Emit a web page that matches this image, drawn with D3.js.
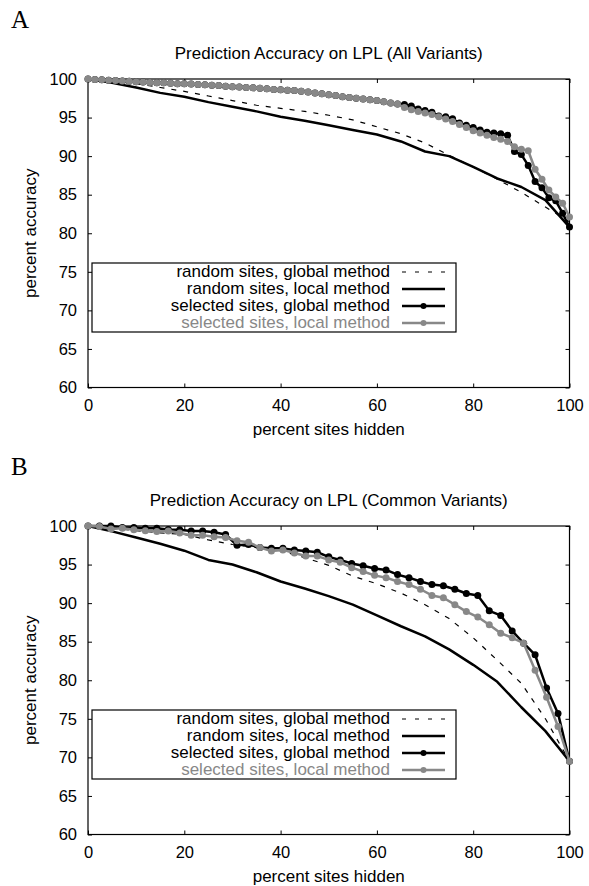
<!DOCTYPE html>
<html>
<head>
<meta charset="utf-8">
<script src="https://cdn.jsdelivr.net/npm/d3@7"></script>
<style>
  body { margin: 0; background: #fff; }
  svg { display: block; }
  text { font-family: "Liberation Sans", Arial, Helvetica, sans-serif; }
</style>
</head>
<body>
<div id="chart"></div>
<script>
var width = 589,
    height = 886;

var xTicks = [0, 20, 40, 60, 80, 100];
var yTicks = [60, 65, 70, 75, 80, 85, 90, 95, 100];
var legendLabels = ['random sites, global method', 'random sites, local method',
                    'selected sites, global method', 'selected sites, local method'];

// random sites are sampled every 5 percent
var randX = [0, 5, 10, 15, 20, 25, 30, 35, 40, 45, 50, 55, 60, 65, 70, 75, 80, 85, 90, 95, 100];

// ---- panel A: all variants (70 sites, one point per hidden site)
var sitesA = 70;
var randGlobalA = [100, 99.75, 99.4, 98.9, 98.4, 97.8, 97.2, 96.6, 96.2, 95.8, 95.3,
                   94.7, 93.8, 92.9, 91.7, 90.1, 88.6, 87.0, 85.3, 83.4, 81.5];
var randLocalA = [100, 99.5, 98.9, 98.2, 97.7, 97.0, 96.4, 95.8, 95.1, 94.6, 94.0,
                  93.4, 92.8, 91.9, 90.6, 90.0, 88.6, 87.1, 86.0, 84.3, 80.8];
var selGlobalA = [100, 99.95, 99.9, 99.85, 99.8, 99.75, 99.7, 99.65, 99.6, 99.55,
                  99.5, 99.5, 99.45, 99.4, 99.4, 99.35, 99.3, 99.25, 99.2, 99.15,
                  99.05, 99.0, 98.95, 98.9, 98.85, 98.8, 98.75, 98.65, 98.6, 98.55,
                  98.5, 98.4, 98.3, 98.2, 98.1, 97.95, 97.85, 97.7, 97.6, 97.5,
                  97.4, 97.3, 97.2, 97.05, 96.9, 96.75,
                  96.7, 96.5, 96.1, 95.9, 95.7, 95.2, 95.1, 94.85, 94.3, 94.0,
                  93.7, 93.4, 93.1, 93.0, 92.9, 92.7, 90.6, 90.2, 88.8, 86.7,
                  85.9, 84.6, 84.2, 82.6, 80.8];
var selLocalA = [100, 99.95, 99.9, 99.85, 99.8, 99.75, 99.7, 99.65, 99.6, 99.55,
                 99.5, 99.5, 99.45, 99.4, 99.4, 99.35, 99.3, 99.25, 99.2, 99.15,
                 99.05, 99.0, 98.95, 98.9, 98.85, 98.8, 98.75, 98.65, 98.6, 98.55,
                 98.5, 98.4, 98.3, 98.2, 98.1, 97.95, 97.85, 97.7, 97.6, 97.5,
                 97.4, 97.3, 97.2, 97.05, 96.9, 96.75,
                 96.3, 96.0, 95.8, 95.6, 95.4, 95.1, 94.8, 94.5, 94.1, 93.7,
                 93.3, 93.0, 92.7, 92.4, 92.2, 91.9, 91.2, 90.9, 90.7, 88.3,
                 87.0, 85.6, 84.7, 83.9, 82.1];

// ---- panel B: common variants (42 sites)
var sitesB = 42;
var randGlobalB = [100, 99.7, 99.4, 99.1, 98.9, 98.2, 97.6, 97.2, 96.8, 95.9, 94.9,
                   93.5, 92.5, 91.3, 89.8, 88.0, 85.5, 82.6, 79.6, 75.0, 69.5];
var randLocalB = [100, 99.3, 98.5, 97.7, 96.8, 95.6, 95.0, 94.0, 92.8, 91.9, 90.9,
                  89.8, 88.4, 87.0, 85.7, 84.0, 82.0, 79.8, 76.5, 73.4, 69.5];
var selGlobalB = [100, 100, 100, 99.8, 99.8, 99.7, 99.7, 99.55, 99.5, 99.35,
                  99.35, 99.2, 98.9, 97.5, 97.6, 97.2, 97.1, 97.1, 96.9, 96.75,
                  96.6, 96.0, 95.6, 95.15, 94.85, 94.5, 94.3, 93.7, 93.3, 92.8,
                  92.4, 92.25, 91.8, 91.25, 91.0, 89.0, 88.4, 86.4, 84.8, 83.3,
                  79.0, 75.7, 69.5];
var selLocalB = [100, 99.95, 99.6, 99.7, 99.5, 99.4, 99.3, 99.35, 99.1, 98.8,
                 98.8, 98.6, 98.5, 98.1, 97.9, 97.2, 96.75, 96.9, 96.5, 96.1,
                 96.1, 95.6, 95.3, 94.6, 94.1, 93.6, 93.3, 92.8, 92.4, 91.8,
                 91.0, 90.7, 89.8, 88.9, 88.2, 87.2, 86.1, 85.5, 84.8, 81.3,
                 77.8, 74.0, 69.5];

var grey = '#888888';

var svg = d3.select('#chart').append('svg')
    .attr('width', width)
    .attr('height', height);

svg.append('rect').attr('width', width).attr('height', height).attr('fill', '#fff');

var x = d3.scaleLinear().domain([0, 100]).range([88, 569.5]);
var y = d3.scaleLinear().domain([60, 100]).range([308.5, 0]);

function drawPanel(top, letter, title, rg, rl, sg, sl, sites) {
    var g = svg.append('g').attr('transform', 'translate(0,' + top + ')');

    // site grid of the selected-sites runs
    var selX = d3.range(sites + 1).map(function(k) { return k * 100 / sites; });

    g.append('text')
        .attr('x', 11)
        .attr('y', -51)
        .style('font-family', '"Liberation Serif", "Times New Roman", serif')
        .style('font-size', '25px')
        .text(letter);

    g.append('text')
        .attr('x', (x(0) + x(100)) / 2)
        .attr('y', -20)
        .attr('text-anchor', 'middle')
        .style('font-size', '17px')
        .text(title);

    // axes, ticks pointing inward on all four sides
    var axes = [
        g.append('g').attr('transform', 'translate(0,' + y(60) + ')')
            .call(d3.axisBottom(x).tickValues(xTicks).tickSize(-4).tickPadding(12)),
        g.append('g').attr('transform', 'translate(0,' + y(100) + ')')
            .call(d3.axisTop(x).tickValues(xTicks).tickSize(-4).tickFormat('')),
        g.append('g').attr('transform', 'translate(' + x(0) + ',0)')
            .call(d3.axisLeft(y).tickValues(yTicks).tickSize(-4).tickPadding(11)),
        g.append('g').attr('transform', 'translate(' + x(100) + ',0)')
            .call(d3.axisRight(y).tickValues(yTicks).tickSize(-4).tickFormat(''))
    ];
    axes.forEach(function(a) {
        a.attr('font-family', null).attr('font-size', null);
        a.select('.domain').remove();
        a.selectAll('line').attr('stroke', '#000').attr('stroke-width', 1);
        a.selectAll('text').style('font-size', '16.5px').attr('fill', '#000');
    });

    g.append('rect')
        .attr('x', x(0))
        .attr('y', y(100))
        .attr('width', x(100) - x(0))
        .attr('height', y(60) - y(100))
        .attr('fill', 'none')
        .attr('stroke', '#000')
        .attr('stroke-width', 1.2);

    g.append('text')
        .attr('x', (x(0) + x(100)) / 2)
        .attr('y', y(60) + 47)
        .attr('text-anchor', 'middle')
        .style('font-size', '17px')
        .text('percent sites hidden');

    g.append('text')
        .attr('transform', 'translate(36,' + (y(60) + y(100)) / 2 + ') rotate(-90)')
        .attr('text-anchor', 'middle')
        .style('font-size', '17px')
        .text('percent accuracy');

    var line = d3.line()
        .x(function(d) { return x(d[0]); })
        .y(function(d) { return y(d[1]); });

    function pairs(xs, vs) {
        return vs.map(function(v, i) { return [xs[i], v]; });
    }

    g.append('path')
        .attr('d', line(pairs(randX, rg)))
        .attr('fill', 'none')
        .attr('stroke', '#000')
        .attr('stroke-width', 1.2)
        .attr('stroke-dasharray', '5,7');

    g.append('path')
        .attr('d', line(pairs(randX, rl)))
        .attr('fill', 'none')
        .attr('stroke', '#000')
        .attr('stroke-width', 2.5)
        .attr('stroke-linejoin', 'round');

    [[sg, '#000'], [sl, grey]].forEach(function(s) {
        var pts = pairs(selX, s[0]);
        g.append('path')
            .attr('d', line(pts))
            .attr('fill', 'none')
            .attr('stroke', s[1])
            .attr('stroke-width', 2.5)
            .attr('stroke-linejoin', 'round');
        g.append('g').selectAll('circle')
            .data(pts)
            .enter()
            .append('circle')
            .attr('cx', function(d) { return x(d[0]); })
            .attr('cy', function(d) { return y(d[1]); })
            .attr('r', 3.5)
            .attr('fill', s[1]);
    });

    // legend
    var lg = g.append('g').attr('class', 'legend');
    lg.append('rect')
        .attr('x', 92)
        .attr('y', 184)
        .attr('width', 364)
        .attr('height', 69)
        .attr('fill', '#fff')
        .attr('stroke', '#000')
        .attr('stroke-width', 1.2);

    var rows = lg.selectAll('g.row')
        .data(legendLabels)
        .enter().append('g')
        .attr('class', 'row')
        .attr('transform', function(d, i) { return 'translate(0,' + (198 + i * 17) + ')'; });

    rows.append('text')
        .attr('x', 390)
        .attr('text-anchor', 'end')
        .style('font-size', '17px')
        .attr('fill', function(d, i) { return i == 3 ? grey : '#000'; })
        .text(function(d) { return d; });

    rows.append('line')
        .attr('x1', 402)
        .attr('x2', 445)
        .attr('y1', -5)
        .attr('y2', -5)
        .attr('stroke', function(d, i) { return i == 3 ? grey : '#000'; })
        .attr('stroke-width', function(d, i) { return i == 0 ? 1.2 : 2.5; })
        .attr('stroke-dasharray', function(d, i) { return i == 0 ? '4,9' : null; });

    rows.filter(function(d, i) { return i >= 2; })
        .append('circle')
        .attr('cx', 423.5)
        .attr('cy', -5)
        .attr('r', 3)
        .attr('fill', function(d, i) { return i == 1 ? grey : '#000'; });
}

drawPanel(79, 'A', 'Prediction Accuracy on LPL (All Variants)',
          randGlobalA, randLocalA, selGlobalA, selLocalA, sitesA);
drawPanel(526, 'B', 'Prediction Accuracy on LPL (Common Variants)',
          randGlobalB, randLocalB, selGlobalB, selLocalB, sitesB);
</script>
</body>
</html>
